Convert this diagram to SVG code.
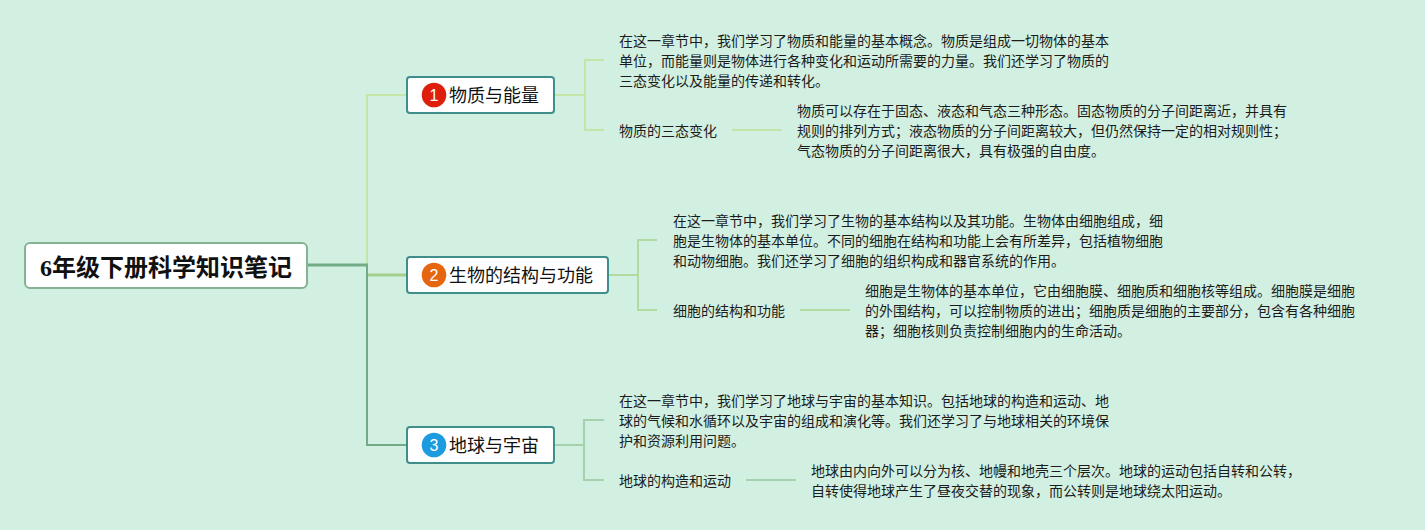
<svg xmlns="http://www.w3.org/2000/svg" width="1425" height="530" viewBox="0 0 1425 530">
<style>
text{font-family:"Liberation Sans","Noto Sans CJK SC",sans-serif;fill:#1c1c1c}
.root{fill:#fff;stroke:#83b392;stroke-width:2}
.topic{fill:#fff;stroke:#3f8e8c;stroke-width:2}
.rt{font-family:"Liberation Serif","Noto Sans CJK SC",serif;font-size:24px;font-weight:700;fill:#111}
.tt{font-size:18px;fill:#111}
.d{font-size:14px}
.n{font-size:16px;fill:#fff;text-anchor:middle}
.c{fill:none;stroke-width:2}
.w{stroke-width:3}
</style>
<rect width="1425" height="530" fill="#d2f0e1"/>
<g id="connectors">
<path class="c" d="M367 265V95H407" stroke="#c3e5a8"/>
<path class="c w" d="M367 275H407" stroke="#a4d08e"/>
<path class="c" d="M367 265V445H407" stroke="#72ab88"/>
<path class="c w" d="M308 265H368" stroke="#72ab88"/>
<path class="c" d="M554 95H585" stroke="#c3e5a8"/>
<path class="c" d="M604 60H585V130H604" stroke="#c3e5a8"/>
<path class="c" d="M732 130H782" stroke="#c3e5a8"/>
<path class="c" d="M608 275H638" stroke="#b2dba0"/>
<path class="c" d="M657 240H638V310H657" stroke="#b2dba0"/>
<path class="c" d="M800 310H850" stroke="#b2dba0"/>
<path class="c" d="M554 445H584" stroke="#a5d1ac"/>
<path class="c" d="M604 420H584V480H604" stroke="#a5d1ac"/>
<path class="c" d="M746 480H796" stroke="#a5d1ac"/>
</g>
<g id="root"><rect class="root" x="25" y="243" width="282" height="45" rx="5"/><text class="rt" x="40" y="276">6年级下册科学知识笔记</text></g>
<g id="topic1"><rect class="topic" x="407" y="77" width="147" height="36" rx="3"/><circle cx="434" cy="95" r="12.3" fill="#dd1f0c"/><text class="n" x="434" y="101">1</text><text class="tt" x="449" y="102">物质与能量</text></g>
<g id="topic2"><rect class="topic" x="407" y="257" width="201" height="36" rx="3"/><circle cx="434" cy="275" r="12.3" fill="#e5660f"/><text class="n" x="434" y="281">2</text><text class="tt" x="449" y="282">生物的结构与功能</text></g>
<g id="topic3"><rect class="topic" x="407" y="427" width="147" height="36" rx="3"/><circle cx="434" cy="445" r="12.3" fill="#1c9bdf"/><text class="n" x="434" y="451">3</text><text class="tt" x="449" y="452">地球与宇宙</text></g>
<g id="n1a"><text class="d" x="619" y="46">在这一章节中，我们学习了物质和能量的基本概念。物质是组成一切物体的基本</text><text class="d" x="619" y="66">单位，而能量则是物体进行各种变化和运动所需要的力量。我们还学习了物质的</text><text class="d" x="619" y="86">三态变化以及能量的传递和转化。</text></g>
<g id="n1b"><text class="d" x="619" y="136">物质的三态变化</text></g>
<g id="n1c"><text class="d" x="797" y="116">物质可以存在于固态、液态和气态三种形态。固态物质的分子间距离近，并具有</text><text class="d" x="797" y="136">规则的排列方式；液态物质的分子间距离较大，但仍然保持一定的相对规则性；</text><text class="d" x="797" y="156">气态物质的分子间距离很大，具有极强的自由度。</text></g>
<g id="n2a"><text class="d" x="673" y="226">在这一章节中，我们学习了生物的基本结构以及其功能。生物体由细胞组成，细</text><text class="d" x="673" y="246">胞是生物体的基本单位。不同的细胞在结构和功能上会有所差异，包括植物细胞</text><text class="d" x="673" y="266">和动物细胞。我们还学习了细胞的组织构成和器官系统的作用。</text></g>
<g id="n2b"><text class="d" x="673" y="316">细胞的结构和功能</text></g>
<g id="n2c"><text class="d" x="865" y="296">细胞是生物体的基本单位，它由细胞膜、细胞质和细胞核等组成。细胞膜是细胞</text><text class="d" x="865" y="316">的外围结构，可以控制物质的进出；细胞质是细胞的主要部分，包含有各种细胞</text><text class="d" x="865" y="336">器；细胞核则负责控制细胞内的生命活动。</text></g>
<g id="n3a"><text class="d" x="619" y="406">在这一章节中，我们学习了地球与宇宙的基本知识。包括地球的构造和运动、地</text><text class="d" x="619" y="426">球的气候和水循环以及宇宙的组成和演化等。我们还学习了与地球相关的环境保</text><text class="d" x="619" y="446">护和资源利用问题。</text></g>
<g id="n3b"><text class="d" x="619" y="486">地球的构造和运动</text></g>
<g id="n3c"><text class="d" x="811" y="476">地球由内向外可以分为核、地幔和地壳三个层次。地球的运动包括自转和公转，</text><text class="d" x="811" y="496">自转使得地球产生了昼夜交替的现象，而公转则是地球绕太阳运动。</text></g>
</svg>
